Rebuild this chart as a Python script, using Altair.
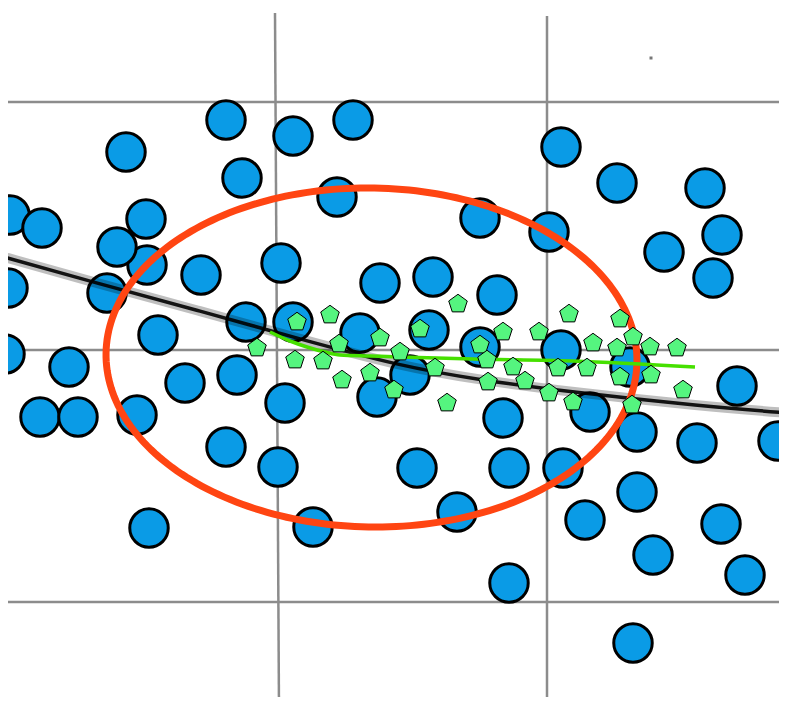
import altair as alt
import pandas as pd
import numpy as np

# blue circles (x, y in picture units, y downward)
circle_x = [147, 226, 293, 353, 126, 561, 617, 705, 242, 337,
            10, 42, 146, 117, 480, 549, 722, 664, 713,
            8, 107, 201, 281, 380, 433, 497,
            246, 293, 158, 360, 429, 480, 561,
            5, 69, 185, 237, 410, 630, 377, 285, 737,
            40, 78, 137, 503, 590, 637, 697, 778,
            226, 278, 417, 509, 563, 637, -18, 803,
            149, 313, 457, 585, 721, 803, 653, 745, 509, 633]
circle_y = [265, 120, 136, 120, 152, 147, 183, 188, 178, 197,
            215, 228, 219, 247, 218, 232, 235, 252, 278,
            288, 293, 275, 263, 283, 277, 295,
            322, 322, 335, 333, 330, 347, 350,
            354, 367, 383, 375, 375, 367, 397, 403, 386,
            417, 417, 415, 418, 412, 432, 443, 441,
            447, 467, 468, 468, 468, 492, 457, 481,
            528, 527, 512, 520, 524, 527, 555, 575, 583, 643]

# green pentagons
pent_x = [297, 330, 257, 295, 323, 339, 380, 420, 458, 342, 370, 400, 394,
          435, 447, 480, 487, 503, 488, 513, 525, 539, 549, 558, 569, 573,
          587, 593, 617, 620, 633, 650, 620, 651, 632, 677, 683]
pent_y = [322, 315, 348, 360, 361, 344, 338, 329, 304, 380, 373, 352, 390,
          368, 403, 345, 360, 332, 382, 367, 381, 332, 393, 368, 314, 402,
          368, 343, 348, 319, 337, 347, 377, 375, 405, 348, 390]

# black trend curve
black_x = [-10, 100, 200, 300, 400, 480, 570, 700, 800]
black_y = [253, 284, 311, 339, 366, 380, 392, 406, 414]

# green curve
green_x = [270, 290, 307, 325, 340, 370, 400, 473, 573, 695]
green_y = [332, 341, 347, 352, 355, 356, 357, 359, 361, 367]

# grid lines
grid_h_y = [102, 350, 602]
grid_v_x_top = [275, 547]
grid_v_x_bot = [279, 547]
grid_v_y_top = [13, 16]

# ellipse parameters
ell_cx, ell_cy, ell_rx, ell_ry, ell_tilt_deg = 371.5, 357.5, 265.5, 169.5, 1.0

sx = alt.Scale(domain=[8, 779], nice=False, zero=False)
sy = alt.Scale(domain=[8, 697], nice=False, zero=False, reverse=True)

def X(f="x"):
    return alt.X(f"{f}:Q", scale=sx, axis=None)

def Y(f="y"):
    return alt.Y(f"{f}:Q", scale=sy, axis=None)

grid_col = "#8c8c8c"

hdf = pd.DataFrame({"x": [0] * len(grid_h_y), "x2": [800] * len(grid_h_y), "y": grid_h_y})
hgrid = alt.Chart(hdf).mark_rule(color=grid_col, strokeWidth=2.5, clip=True).encode(
    x=X(), x2="x2:Q", y=Y())

vdf = pd.DataFrame({"x": grid_v_x_top, "x2": grid_v_x_bot, "y": grid_v_y_top, "y2": [710, 710]})
vgrid = alt.Chart(vdf).mark_rule(color=grid_col, strokeWidth=2.5, clip=True).encode(
    x=X(), x2="x2:Q", y=Y(), y2="y2:Q")

dot = alt.Chart(pd.DataFrame({"x": [651], "y": [58]})).mark_square(
    color="#777777", size=9, opacity=1).encode(x=X(), y=Y())

cdf = pd.DataFrame({"x": circle_x, "y": circle_y})
circles = alt.Chart(cdf).mark_circle(
    size=1480, color="#0a9be6", opacity=1, stroke="black", strokeWidth=3, clip=True
).encode(x=X(), y=Y())

bdf = pd.DataFrame({"x": black_x, "y": black_y, "o": list(range(len(black_x)))})
black_glow = alt.Chart(bdf).mark_line(
    color="black", strokeWidth=10, opacity=0.25, interpolate="basis", clip=True
).encode(x=X(), y=Y(), order="o:Q")
black_core = alt.Chart(bdf).mark_line(
    color="black", strokeWidth=3.5, opacity=0.9, interpolate="basis", clip=True
).encode(x=X(), y=Y(), order="o:Q")

t = np.linspace(0, 2 * np.pi, 241)
th = np.deg2rad(ell_tilt_deg)
ex = ell_cx + ell_rx * np.cos(t) * np.cos(th) - ell_ry * np.sin(t) * np.sin(th)
ey = ell_cy + ell_rx * np.cos(t) * np.sin(th) + ell_ry * np.sin(t) * np.cos(th)
edf = pd.DataFrame({"x": ex, "y": ey, "o": np.arange(len(t))})
ellipse = alt.Chart(edf).mark_line(
    color="#ff4512", strokeWidth=7, interpolate="linear"
).encode(x=X(), y=Y(), order="o:Q")

gdf = pd.DataFrame({"x": green_x, "y": green_y, "o": list(range(len(green_x)))})
green = alt.Chart(gdf).mark_line(
    color="#46e000", strokeWidth=3.5, interpolate="monotone"
).encode(x=X(), y=Y(), order="o:Q")

pent_path = "M0,-1L0.951,-0.309L0.588,0.809L-0.588,0.809L-0.951,-0.309Z"
pdf = pd.DataFrame({"x": pent_x, "y": pent_y})
pents = alt.Chart(pdf).mark_point(
    shape=pent_path, size=380, filled=True, fill="#55f57f", opacity=1,
    stroke="black", strokeWidth=1
).encode(x=X(), y=Y())

chart = alt.layer(
    hgrid, vgrid, dot, circles, black_glow, black_core, ellipse, green, pents
).properties(
    width=771, height=689,
    autosize=alt.AutoSizeParams(type="none"),
    padding=0,
    background="white",
).configure_view(stroke=None)

chart.save("out.html", embed_options={"renderer": "svg", "actions": False})
